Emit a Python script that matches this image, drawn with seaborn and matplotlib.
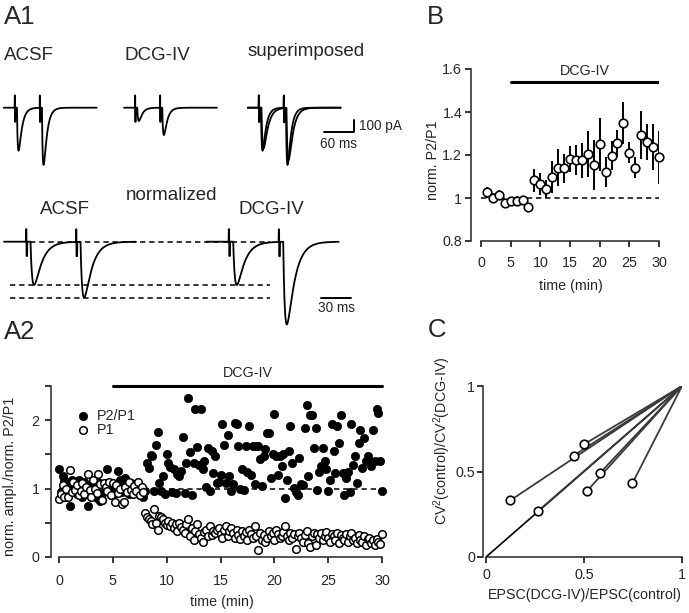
import numpy as np
import seaborn as sns
import matplotlib
matplotlib.use("Agg")
import matplotlib.pyplot as plt

sns.set_style("ticks")
plt.rcParams['font.family'] = ['Liberation Sans', 'DejaVu Sans']
plt.rcParams['mathtext.fontset'] = 'custom'
plt.rcParams['mathtext.rm'] = 'Liberation Sans'
plt.rcParams['mathtext.it'] = 'Liberation Sans:italic'
plt.rcParams['axes.linewidth'] = 1.1

# ---------------- data ----------------
# A1 example traces: EPSC peak amplitudes (pA) for the paired pulses
acsf_amp_pA = [350, 465]
dcg_amp_pA = [108, 222]
superimposed_amp_pA = [330, 425]
isi_ms = 50
# normalized traces (EPSC1 = 1)
acsf_norm = [1.0, 1.29]
dcg_norm = [1.0, 1.91]

# A2 time course, one sample every 10 s
sample_min = 10 / 60
p2p1_values = [
    1.29, 0.95, 1.18, 1.13, 0.88, 1.08,
    0.74, 1.13, 1.05, 1.08, 0.92, 1.13,
    1.03, 0.88, 1.10, 0.97, 0.74, 1.05,
    0.93, 1.02, 0.98, 0.86, 1.10, 0.82,
    0.84, 0.95, 1.08, 1.28, 1.02, 0.90,
    0.98, 1.05, 0.93, 1.26, 1.12, 0.95,
    1.13, 1.16, 1.03, 0.92, 1.08, 0.98,
    0.98, 0.93, 1.05, 0.91, 1.00, 0.88,
    0.97, 1.38, 1.30, 1.49, 1.47, 0.96,
    1.64, 1.83, 1.08, 0.96, 1.19, 0.92,
    1.51, 1.37, 1.32, 0.95, 1.28, 0.93,
    1.22, 1.19, 1.26, 1.75, 0.94, 1.37,
    2.33, 1.53, 0.90, 1.37, 2.17, 1.61,
    1.35, 2.17, 1.29, 1.40, 1.03, 1.60,
    0.96, 1.55, 1.23, 1.48, 1.08, 1.10,
    1.20, 1.94, 1.64, 1.08, 1.78, 1.19,
    0.96, 1.07, 1.96, 1.94, 1.62, 1.00,
    1.28, 0.98, 1.62, 1.24, 1.92, 1.20,
    1.62, 1.06, 1.62, 1.62, 1.43, 1.04,
    1.47, 1.58, 1.82, 1.81, 1.15, 1.51,
    2.09, 1.47, 1.20, 1.47, 1.33, 1.50,
    0.86, 1.13, 1.55, 1.92, 1.37, 1.01,
    0.95, 0.91, 1.45, 1.07, 1.05, 1.89,
    2.22, 1.18, 2.07, 2.07, 1.59, 1.88,
    0.98, 1.25, 1.33, 1.59, 1.40, 1.28,
    0.96, 1.12, 1.94, 1.55, 1.23, 1.92,
    1.67, 2.08, 1.23, 0.91, 1.16, 1.24,
    0.95, 1.94, 1.34, 1.47, 1.08, 1.67,
    1.86, 1.30, 1.74, 1.40, 1.47, 1.40,
    1.33, 1.86, 1.40, 2.16, 2.10, 1.40,
    0.96,
]
p1_values = [
    0.85, 0.92, 1.05, 0.88, 1.00, 0.87,
    1.27, 0.95, 1.10, 0.98, 1.05, 0.90,
    0.96, 1.08, 0.92, 1.02, 1.22, 0.98,
    0.88, 1.12, 1.00, 0.94, 1.22, 1.06,
    0.84, 1.08, 1.02, 0.96, 1.10, 0.90,
    1.08, 0.80, 1.05, 0.93, 1.00, 0.78,
    0.80, 1.02, 0.95, 1.10, 0.98, 0.92,
    1.04, 0.96, 1.10, 0.90, 1.02, 0.95,
    0.65, 0.58, 0.55, 0.52, 0.48, 0.70,
    0.49, 0.39, 0.60, 0.58, 0.55, 0.50,
    0.47, 0.52, 0.45, 0.50, 0.42, 0.48,
    0.38, 0.50, 0.44, 0.40, 0.35, 0.48,
    0.55, 0.30, 0.42, 0.25, 0.38, 0.48,
    0.33, 0.28, 0.22, 0.36, 0.40, 0.30,
    0.45, 0.32, 0.38, 0.35, 0.40, 0.42,
    0.33, 0.28, 0.40, 0.45, 0.30, 0.38,
    0.43, 0.35, 0.28, 0.40, 0.32, 0.26,
    0.38, 0.30, 0.36, 0.25, 0.40, 0.33,
    0.28, 0.45, 0.30, 0.10, 0.35, 0.25,
    0.32, 0.22, 0.28, 0.38, 0.30, 0.35,
    0.25, 0.40, 0.33, 0.28, 0.30, 0.36,
    0.45, 0.30, 0.25, 0.35, 0.28, 0.33,
    0.12, 0.30, 0.35, 0.28, 0.22, 0.32,
    0.38, 0.20, 0.15, 0.30, 0.35, 0.18,
    0.33, 0.28, 0.35, 0.25, 0.30, 0.36,
    0.28, 0.22, 0.33, 0.30, 0.25, 0.35,
    0.20, 0.32, 0.28, 0.25, 0.34, 0.22,
    0.30, 0.35, 0.25, 0.28, 0.20, 0.32,
    0.25, 0.22, 0.30, 0.18, 0.26, 0.28,
    0.20, 0.25, 0.18, 0.27, 0.22, 0.19,
    0.33,
]

# B: mean +- sem of normalized P2/P1 per minute
pp_time = list(range(1, 31))
pp_mean = [1.026, 1.002, 1.015, 0.979, 0.984, 0.987, 0.991, 0.960, 1.082, 1.065,
           1.041, 1.096, 1.141, 1.138, 1.181, 1.178, 1.175, 1.205, 1.155, 1.250,
           1.119, 1.197, 1.254, 1.349, 1.211, 1.141, 1.292, 1.259, 1.236, 1.190]
pp_sem = [0.027, 0.020, 0.020, 0.010, 0.010, 0.020, 0.020, 0.010, 0.052, 0.050,
          0.043, 0.074, 0.085, 0.066, 0.062, 0.070, 0.080, 0.107, 0.117, 0.124,
          0.070, 0.066, 0.062, 0.097, 0.050, 0.050, 0.111, 0.084, 0.107, 0.123]

# C: CV analysis
epsc_ratio = [0.124, 0.264, 0.447, 0.500, 0.517, 0.583, 0.747]
cv_ratio = [0.331, 0.267, 0.593, 0.659, 0.388, 0.493, 0.431]

drug_start, drug_end = 5, 30

# ---------------- figure ----------------
W, H = 689, 613
fig = plt.figure(figsize=(W / 100, H / 100), dpi=100)


def px_axes(x0, y0, x1, y1):
    return fig.add_axes([x0 / W, 1 - y1 / H, (x1 - x0) / W, (y1 - y0) / H])


def ftext(x, y, s, size, **kw):
    fig.text(x / W, 1 - y / H, s, fontsize=size, va='baseline', **kw)


def epsc_trace(amps, pre, post, tau_r, tau_d, delay, art_up, art_down, dt=0.1):
    t = np.arange(-pre, post, dt)
    y = np.zeros_like(t)
    tp = np.log(tau_d / tau_r) * tau_r * tau_d / (tau_d - tau_r)
    peak = np.exp(-tp / tau_d) - np.exp(-tp / tau_r)
    for k, amp in enumerate(amps):
        s = k * isi_ms
        u = t - s - delay
        on = u > 0
        y[on] -= amp * (np.exp(-u[on] / tau_d) - np.exp(-u[on] / tau_r)) / peak
        y[(t >= s) & (t < s + 0.5)] += art_up
        y[(t >= s + 0.5) & (t < s + 1.2)] -= art_down
    return t, y


# ---- A1 raw traces ----
px_ms, px_pA, base_y = 0.5, 0.123, 107.7
ax_t = px_axes(0, 80, 420, 180)
ax_t.set_xlim(0, 420 / px_ms)
ax_t.set_ylim((base_y - 180) / px_pA, (base_y - 80) / px_pA)
ax_t.axis('off')
for start, amps, kin in [(29.4, acsf_amp_pA, (1.8, 6.5, 4.5)),
                         (270.0, dcg_amp_pA, (1.8, 6.5, 4.5)),
                         (517.4, acsf_amp_pA, (1.8, 6.5, 4.5)),
                         (517.4, superimposed_amp_pA, (2.4, 8.5, 5.5))]:
    t, y = epsc_trace(amps, 22, 164, *kin, art_up=100, art_down=115)
    ax_t.plot(t + start, y, color='black', lw=1.3)
# scale bar 60 ms / 100 pA
ax_t.plot([648, 708, 708], [-200, -200, -100], color='black', lw=1.4)
ax_t.text(718, -150, '100 pA', fontsize=9.8, va='center', ha='left')
ax_t.text(678, -298, '60 ms', fontsize=9.8, va='center', ha='center')

# ---- A1 normalized traces ----
nbase = 241.7
px_unit = 43.3
ax_n = px_axes(0, 220, 420, 340)
ax_n.set_xlim(0, 420)
ax_n.set_ylim((nbase - 340) / px_unit, (nbase - 220) / px_unit)
ax_n.axis('off')
for start, amps in [(26.0, acsf_norm), (228.7, dcg_norm)]:
    t, y = epsc_trace(amps, 22, 110, 2.0, 7.5, 4.5, art_up=0.29, art_down=0.33)
    ax_n.plot(t + start, y, color='black', lw=1.3)
dash = dict(color='black', lw=1.1, ls=(0, (3.5, 2.5)))
ax_n.plot([30, 270], [0, 0], **dash)
ax_n.plot([10, 270], [-acsf_norm[0], -acsf_norm[0]], **dash)
ax_n.plot([10, 270], [-acsf_norm[1], -acsf_norm[1]], **dash)
ax_n.plot([321, 351], [-1.29, -1.29], color='black', lw=1.4)
ax_n.text(336, -1.54, '30 ms', fontsize=9.8, va='center', ha='center')

# ---- text labels ----
ftext(4, 24, 'A1', 18.5)
ftext(4, 60, 'ACSF', 13.5)
ftext(125, 60, 'DCG-IV', 13.5)
ftext(248, 56, 'superimposed', 13.5)
ftext(126, 200.5, 'normalized', 13.5)
ftext(40, 214, 'ACSF', 13.5)
ftext(238, 214, 'DCG-IV', 13.5)
ftext(4, 339, 'A2', 18.5)
ftext(427, 23.5, 'B', 18.5)
ftext(428, 337, 'C', 18.5)

fs = 10.3
tick_kw = dict(direction='out', length=4, width=1.1, labelsize=fs, color='black')
lab_kw = dict(fontsize=fs, va='center', ha='center')

# ---- A2 ----
ax2 = px_axes(59, 386, 382, 557)
a2_time = np.arange(len(p2p1_values)) * sample_min
sns.scatterplot(x=a2_time, y=p2p1_values, ax=ax2, color='black', s=36,
                edgecolor='black', linewidth=0.5, clip_on=False, zorder=3,
                label='P2/P1')
sns.scatterplot(x=a2_time, y=p1_values, ax=ax2, facecolor='white', s=30,
                edgecolor='black', linewidth=1.1, clip_on=False, zorder=4,
                label='P1')
ax2.plot([0, 30], [1, 1], **dash, zorder=2)
ax2.plot([drug_start, drug_end], [2.5, 2.5], color='black', lw=2.2, clip_on=False)
ax2.text((drug_start + drug_end) / 2, 2.69, 'DCG-IV', fontsize=fs, ha='center', va='center')
ax2.set_xlim(0, 30)
ax2.set_ylim(0, 2.5)
ax2.set_xticks(range(0, 31, 5))
ax2.set_yticks([0, 0.5, 1, 1.5, 2, 2.5])
ax2.set_yticklabels(['0', '', '1', '', '2', ''])
ax2.tick_params(axis='x', pad=8, **tick_kw)
ax2.tick_params(axis='y', pad=4, **tick_kw)
sns.despine(ax=ax2)
ax2.spines['left'].set_position(('outward', 6))
ax2.set_xlabel('time (min)', **lab_kw)
ax2.set_ylabel('norm. ampl./norm. P2/P1', **lab_kw)
ax2.xaxis.set_label_coords(0.504, -0.263)
ax2.yaxis.set_label_coords(-0.152, 0.47)
leg = ax2.legend(loc='upper left', bbox_to_anchor=(0.03, 0.90), frameon=False,
                 fontsize=fs, handletextpad=0.35, labelspacing=0.0,
                 borderaxespad=0, handlelength=1.2)

# ---- B ----
axb = px_axes(481, 69, 659, 241)
axb.errorbar(pp_time, pp_mean, yerr=pp_sem, fmt='none', ecolor='black',
             elinewidth=1.4, capsize=0, zorder=3)
sns.scatterplot(x=pp_time, y=pp_mean, ax=axb, facecolor='white', s=38,
                edgecolor='black', linewidth=1.2, zorder=4, clip_on=False)
axb.plot([0, 30], [1, 1], **dash, zorder=2)
axb.plot([drug_start, drug_end], [1.538, 1.538], color='black', lw=2.2)
axb.text((drug_start + drug_end) / 2, 1.589, 'DCG-IV', fontsize=fs, ha='center', va='center')
axb.set_xlim(0, 30)
axb.set_ylim(0.8, 1.6)
axb.set_xticks(range(0, 31, 5))
axb.set_yticks([0.8, 1.0, 1.2, 1.4, 1.6])
axb.set_yticklabels(['0.8', '1', '1.2', '1.4', '1.6'])
axb.tick_params(axis='x', pad=7, **tick_kw)
axb.tick_params(axis='y', pad=2.5, **tick_kw)
sns.despine(ax=axb)
axb.spines['left'].set_position(('outward', 7))
axb.set_xlabel('time (min)', **lab_kw)
axb.set_ylabel('norm. P2/P1', **lab_kw)
axb.xaxis.set_label_coords(0.506, -0.26)
axb.yaxis.set_label_coords(-0.27, 0.47)

# ---- C ----
axc = px_axes(486, 386, 682, 557)
axc.plot([0, 1], [0, 1], color='black', lw=1.2, zorder=2)
for xv, yv in zip(epsc_ratio, cv_ratio):
    axc.plot([xv, 1], [yv, 1], color='#3a3a3a', lw=1.3, zorder=2)
sns.scatterplot(x=epsc_ratio, y=cv_ratio, ax=axc, facecolor='white', s=38,
                edgecolor='black', linewidth=1.2, zorder=4, clip_on=False)
axc.set_xlim(0, 1)
axc.set_ylim(0, 1)
axc.set_xticks([0, 0.5, 1])
axc.set_xticklabels(['0', '0.5', '1'])
axc.set_yticks([0, 0.5, 1])
axc.set_yticklabels(['0', '0.5', '1'])
axc.tick_params(axis='x', pad=4, **tick_kw)
axc.tick_params(axis='y', pad=2, **tick_kw)
sns.despine(ax=axc)
axc.spines['left'].set_position(('outward', 2))
axc.set_xlabel('EPSC(DCG-IV)/EPSC(control)', **lab_kw)
axc.set_ylabel('CV$^2$(control)/CV$^2$(DCG-IV)', **lab_kw)
axc.xaxis.set_label_coords(0.505, -0.222)
axc.yaxis.set_label_coords(-0.224, 0.68)

fig.savefig('out.png', dpi=100)
